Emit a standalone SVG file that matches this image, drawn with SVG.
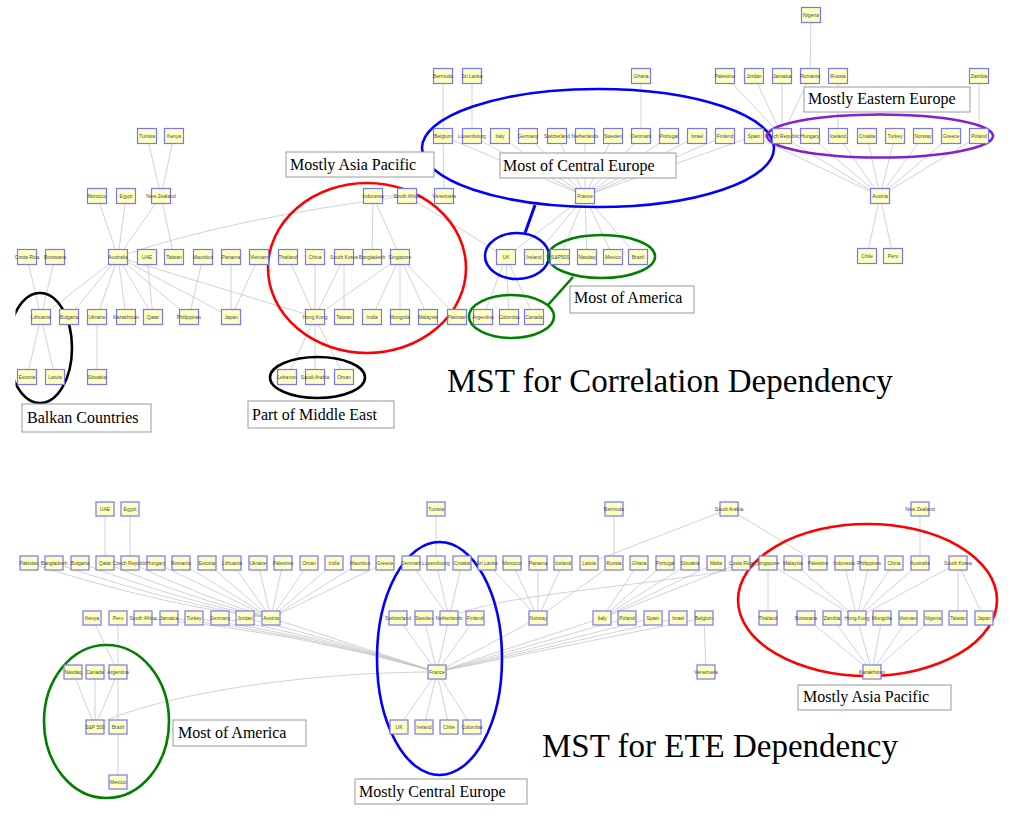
<svg xmlns="http://www.w3.org/2000/svg" width="1024" height="820" viewBox="0 0 1024 820">
<style>
.n use{fill:#ffffc0;stroke:#7676ff;stroke-width:1.2}
.n text{font-family:"Liberation Sans",Arial,sans-serif;font-size:5px;fill:#4a4a4a;text-anchor:middle}
.e path{stroke:#c6c6c6;stroke-width:0.8;fill:none}
.ov{fill:none;stroke-width:2.6}
.lb rect{fill:#fff;stroke:#9a9a9a;stroke-width:1}
.lb text{font-family:"Liberation Serif","Times New Roman",serif;font-size:16px;fill:#000}
.tt{font-family:"Liberation Serif","Times New Roman",serif;font-size:33px;fill:#000}
</style>
<defs>
<clipPath id="clipL"><rect x="15.5" y="280" width="100" height="140"/></clipPath>
<rect id="bt" x="-9.5" y="-7.5" width="19" height="15"/>
<rect id="bb" x="-9" y="-7" width="18" height="14"/>
</defs>
<rect width="1024" height="820" fill="#fff"/>

<g id="connectors" class="e">
<path d="M811 15L810 76M443 76L443 136L444 196M472 76L472 136M641 76L641 136M725 76L782 136M754 76L782 136M782 76L782 136M810 76L782 136M838 76L838 136M979 76L979 136"/>
<path d="M443 136L585 196M472 136L585 196M500 136L585 196M528 136L585 196M557 136L585 196M585 136L585 196M613 136L585 196M641 136L585 196M669 136L585 196M697 136L585 196M725 136L585 196M754 136L585 196"/>
<path d="M754 136L880 196M782 136L880 196M810 136L880 196M838 136L880 196M867 136L880 196M895 136L880 196M923 136L880 196M951 136L880 196M979 136L880 196M880 196L867 256M880 196L893 256"/>
<path d="M585 196L506 257M585 196L534 257M585 196L560 257M585 196L587 257M585 196L613 257M585 196L638 257M506 257L483 317M506 257L509 317M506 257L534 317M407 196L506 257"/>
<path d="M118 257Q230 218 407 196M373 196L407 196M373 196L372 257M373 196L400 257M288 257L315 317M315 257L315 317M344 257L315 317M400 257L315 317M344 257L344 317M400 257L372 317M400 257L400 317M400 257L428 317M400 257L457 317M315 317L287 377M315 317L315 377M315 317L344 377M118 257L315 317"/>
<path d="M147 136L161 196M174 136L161 196M161 196L118 257M161 196L174 257M97 196L118 257M126 196L118 257M118 257L41 317M118 257L69 317M118 257L97 317M118 257L126 317M118 257L153 317M118 257L189 317M118 257L231 317M147 257L153 317M203 257L189 317M231 257L231 317M259 257L231 317M27 257L41 317M55 257L41 317M41 317L27 377M41 317L55 377M97 317L97 377"/>
<path d="M105 509L105 563M130 509L130 563M29 563Q170 608 271 618M54 563Q180 606 271 618M80 563Q190 604 271 618M105 563Q200 602 271 618M130 563Q210 600 271 618M156 563L271 618M181 563L271 618M207 563L271 618M232 563L271 618M258 563L271 618M283 563L271 618M309 563L271 618M334 563L271 618M360 563L271 618M385 563L271 618"/>
<path d="M271 618L437 672M143 618Q290 630 437 672M169 618Q300 632 437 672M194 618Q310 634 437 672M220 618Q320 636 437 672M245 618Q330 638 437 672M92 618L118 672M118 618L118 727M73 672L95 727M95 672L95 727M118 672L95 727M98 724C160 695 300 672 437 672M118 727L118 782"/>
<path d="M436 509L436 563M411 563L449 618M436 563L449 618M462 563L449 618M398 618L437 672M424 618L437 672M449 618L437 672M475 618L437 672M437 672L399 727M437 672L424 727M437 672L449 727M437 672L472 727"/>
<path d="M487 563L538 618M512 563L538 618M538 563L538 618M563 563L538 618M614 563L538 618M614 509L614 563M538 618L437 672M639 563L602 618M665 563L602 618M690 563L602 618M716 563L602 618M741 563L602 618M437 672L602 618M437 672L627 618M437 672L653 618M437 672L678 618M437 672L704 618M704 618L706 672M449 618C500 592 650 588 768 563"/>
<path d="M768 563L768 618M768 563L857 618M793 563L857 618M844 563L857 618M869 563L857 618M894 563L857 618M920 563L857 618M958 563L857 618M729 509L818 563M729 509L589 563M920 509L920 563M958 563L958 618M958 563L984 618M857 618L872 672M806 618L872 672M832 618L872 672M882 618L872 672M908 618L872 672M933 618L872 672"/>
</g>

<g id="groups">
<ellipse class="ov" cx="598" cy="148" rx="176" ry="59" stroke="#0000ff" stroke-width="3"/>
<ellipse class="ov" cx="880" cy="136" rx="113" ry="21.5" stroke="#8022d2"/>
<ellipse class="ov" cx="367" cy="268" rx="99" ry="85" stroke="#ff0000"/>
<ellipse class="ov" cx="517" cy="256" rx="32" ry="23" stroke="#0000ff" stroke-width="3"/>
<path d="M535 205L525 233" stroke="#0000ff" stroke-width="3"/>
<ellipse class="ov" cx="601.5" cy="256.5" rx="53.5" ry="21.5" stroke="#008000"/>
<ellipse class="ov" cx="511.5" cy="316.5" rx="42.5" ry="21.5" stroke="#008000"/>
<path d="M573 277L548 305" stroke="#008000" stroke-width="2.6"/>
<ellipse class="ov" cx="40" cy="348" rx="32" ry="55" stroke="#000" clip-path="url(#clipL)"/>
<ellipse class="ov" cx="317.5" cy="377.5" rx="47.5" ry="20.5" stroke="#000"/>
<ellipse class="ov" cx="106.5" cy="721.5" rx="62.5" ry="76.5" stroke="#008000"/>
<ellipse class="ov" cx="439.5" cy="658.5" rx="62.5" ry="116.5" stroke="#0000ff" stroke-width="3"/>
<ellipse class="ov" cx="867.5" cy="600" rx="129.5" ry="76" stroke="#ff0000"/>
</g>

<g id="top-nodes" class="n">
<g id="a-nigeria" transform="translate(811,15)"><use href="#bt"/><text y="2">Nigeria</text></g>
<g id="a-bermuda" transform="translate(443,76)"><use href="#bt"/><text y="2">Bermuda</text></g>
<g id="a-srilanka" transform="translate(472,76)"><use href="#bt"/><text y="2">Sri Lanka</text></g>
<g id="a-ghana" transform="translate(641,76)"><use href="#bt"/><text y="2">Ghana</text></g>
<g id="a-palestine" transform="translate(725,76)"><use href="#bt"/><text y="2">Palestine</text></g>
<g id="a-jordan" transform="translate(754,76)"><use href="#bt"/><text y="2">Jordan</text></g>
<g id="a-jamaica" transform="translate(782,76)"><use href="#bt"/><text y="2">Jamaica</text></g>
<g id="a-romania" transform="translate(810,76)"><use href="#bt"/><text y="2">Romania</text></g>
<g id="a-russia" transform="translate(838,76)"><use href="#bt"/><text y="2">Russia</text></g>
<g id="a-zambia" transform="translate(979,76)"><use href="#bt"/><text y="2">Zambia</text></g>
<g id="a-belgium" transform="translate(443,136)"><use href="#bt"/><text y="2">Belgium</text></g>
<g id="a-luxembourg" transform="translate(472,136)"><use href="#bt"/><text y="2">Luxembourg</text></g>
<g id="a-italy" transform="translate(500,136)"><use href="#bt"/><text y="2">Italy</text></g>
<g id="a-germany" transform="translate(528,136)"><use href="#bt"/><text y="2">Germany</text></g>
<g id="a-switzerland" transform="translate(557,136)"><use href="#bt"/><text y="2">Switzerland</text></g>
<g id="a-netherlands" transform="translate(585,136)"><use href="#bt"/><text y="2">Netherlands</text></g>
<g id="a-sweden" transform="translate(613,136)"><use href="#bt"/><text y="2">Sweden</text></g>
<g id="a-denmark" transform="translate(641,136)"><use href="#bt"/><text y="2">Denmark</text></g>
<g id="a-portugal" transform="translate(669,136)"><use href="#bt"/><text y="2">Portugal</text></g>
<g id="a-israel" transform="translate(697,136)"><use href="#bt"/><text y="2">Israel</text></g>
<g id="a-finland" transform="translate(725,136)"><use href="#bt"/><text y="2">Finland</text></g>
<g id="a-spain" transform="translate(754,136)"><use href="#bt"/><text y="2">Spain</text></g>
<g id="a-czech" transform="translate(782,136)"><use href="#bt"/><text y="2">Czech Republic</text></g>
<g id="a-hungary" transform="translate(810,136)"><use href="#bt"/><text y="2">Hungary</text></g>
<g id="a-iceland" transform="translate(838,136)"><use href="#bt"/><text y="2">Iceland</text></g>
<g id="a-croatia" transform="translate(867,136)"><use href="#bt"/><text y="2">Croatia</text></g>
<g id="a-turkey" transform="translate(895,136)"><use href="#bt"/><text y="2">Turkey</text></g>
<g id="a-norway" transform="translate(923,136)"><use href="#bt"/><text y="2">Norway</text></g>
<g id="a-greece" transform="translate(951,136)"><use href="#bt"/><text y="2">Greece</text></g>
<g id="a-poland" transform="translate(979,136)"><use href="#bt"/><text y="2">Poland</text></g>
<g id="a-tunisia" transform="translate(147,136)"><use href="#bt"/><text y="2">Tunisia</text></g>
<g id="a-kenya" transform="translate(174,136)"><use href="#bt"/><text y="2">Kenya</text></g>
<g id="a-morocco" transform="translate(97,196)"><use href="#bt"/><text y="2">Morocco</text></g>
<g id="a-egypt" transform="translate(126,196)"><use href="#bt"/><text y="2">Egypt</text></g>
<g id="a-newzealand" transform="translate(161,196)"><use href="#bt"/><text y="2">New Zealand</text></g>
<g id="a-indonesia" transform="translate(373,196)"><use href="#bt"/><text y="2">Indonesia</text></g>
<g id="a-southafrica" transform="translate(407,196)"><use href="#bt"/><text y="2">South Africa</text></g>
<g id="a-venezuela" transform="translate(444,196)"><use href="#bt"/><text y="2">Venezuela</text></g>
<g id="a-france" transform="translate(585,196)"><use href="#bt"/><text y="2">France</text></g>
<g id="a-austria" transform="translate(880,196)"><use href="#bt"/><text y="2">Austria</text></g>
<g id="a-costarica" transform="translate(27,257)"><use href="#bt"/><text y="2">Costa Rica</text></g>
<g id="a-botswana" transform="translate(55,257)"><use href="#bt"/><text y="2">Botswana</text></g>
<g id="a-australia" transform="translate(118,257)"><use href="#bt"/><text y="2">Australia</text></g>
<g id="a-uae" transform="translate(147,257)"><use href="#bt"/><text y="2">UAE</text></g>
<g id="a-taiwan" transform="translate(174,257)"><use href="#bt"/><text y="2">Taiwan</text></g>
<g id="a-mauritius" transform="translate(203,257)"><use href="#bt"/><text y="2">Mauritius</text></g>
<g id="a-panama" transform="translate(231,257)"><use href="#bt"/><text y="2">Panama</text></g>
<g id="a-vietnam" transform="translate(259,257)"><use href="#bt"/><text y="2">Vietnam</text></g>
<g id="a-thailand" transform="translate(288,257)"><use href="#bt"/><text y="2">Thailand</text></g>
<g id="a-china" transform="translate(315,257)"><use href="#bt"/><text y="2">China</text></g>
<g id="a-southkorea" transform="translate(344,257)"><use href="#bt"/><text y="2">South Korea</text></g>
<g id="a-bangladesh" transform="translate(372,257)"><use href="#bt"/><text y="2">Bangladesh</text></g>
<g id="a-singapore" transform="translate(400,257)"><use href="#bt"/><text y="2">Singapore</text></g>
<g id="a-uk" transform="translate(506,257)"><use href="#bt"/><text y="2">UK</text></g>
<g id="a-ireland" transform="translate(534,257)"><use href="#bt"/><text y="2">Ireland</text></g>
<g id="a-sp500" transform="translate(560,257)"><use href="#bt"/><text y="2">S&amp;P500</text></g>
<g id="a-nasdaq" transform="translate(587,257)"><use href="#bt"/><text y="2">Nasdaq</text></g>
<g id="a-mexico" transform="translate(613,257)"><use href="#bt"/><text y="2">Mexico</text></g>
<g id="a-brazil" transform="translate(638,257)"><use href="#bt"/><text y="2">Brazil</text></g>
<g id="a-chile" transform="translate(867,256)"><use href="#bt"/><text y="2">Chile</text></g>
<g id="a-peru" transform="translate(893,256)"><use href="#bt"/><text y="2">Peru</text></g>
<g id="a-lithuania" transform="translate(41,317)"><use href="#bt"/><text y="2">Lithuania</text></g>
<g id="a-bulgaria" transform="translate(69,317)"><use href="#bt"/><text y="2">Bulgaria</text></g>
<g id="a-ukraine" transform="translate(97,317)"><use href="#bt"/><text y="2">Ukraine</text></g>
<g id="a-kazakhstan" transform="translate(126,317)"><use href="#bt"/><text y="2">Kazakhstan</text></g>
<g id="a-qatar" transform="translate(153,317)"><use href="#bt"/><text y="2">Qatar</text></g>
<g id="a-philippines" transform="translate(189,317)"><use href="#bt"/><text y="2">Philippines</text></g>
<g id="a-japan" transform="translate(231,317)"><use href="#bt"/><text y="2">Japan</text></g>
<g id="a-hongkong" transform="translate(315,317)"><use href="#bt"/><text y="2">Hong Kong</text></g>
<g id="a-taiwan2" transform="translate(344,317)"><use href="#bt"/><text y="2">Taiwan</text></g>
<g id="a-india" transform="translate(372,317)"><use href="#bt"/><text y="2">India</text></g>
<g id="a-mongolia" transform="translate(400,317)"><use href="#bt"/><text y="2">Mongolia</text></g>
<g id="a-malaysia" transform="translate(428,317)"><use href="#bt"/><text y="2">Malaysia</text></g>
<g id="a-pakistan" transform="translate(457,317)"><use href="#bt"/><text y="2">Pakistan</text></g>
<g id="a-argentina" transform="translate(483,317)"><use href="#bt"/><text y="2">Argentina</text></g>
<g id="a-colombia" transform="translate(509,317)"><use href="#bt"/><text y="2">Colombia</text></g>
<g id="a-canada" transform="translate(534,317)"><use href="#bt"/><text y="2">Canada</text></g>
<g id="a-estonia" transform="translate(27,377)"><use href="#bt"/><text y="2">Estonia</text></g>
<g id="a-latvia" transform="translate(55,377)"><use href="#bt"/><text y="2">Latvia</text></g>
<g id="a-slovakia" transform="translate(97,377)"><use href="#bt"/><text y="2">Slovakia</text></g>
<g id="a-lebanon" transform="translate(287,377)"><use href="#bt"/><text y="2">Lebanon</text></g>
<g id="a-saudiarabia" transform="translate(315,377)"><use href="#bt"/><text y="2">Saudi Arabia</text></g>
<g id="a-oman" transform="translate(344,377)"><use href="#bt"/><text y="2">Oman</text></g>
</g>

<g id="bottom-nodes" class="n">
<g id="b-uae" transform="translate(105,509)"><use href="#bb"/><text y="2">UAE</text></g>
<g id="b-egypt" transform="translate(130,509)"><use href="#bb"/><text y="2">Egypt</text></g>
<g id="b-tunisia" transform="translate(436,509)"><use href="#bb"/><text y="2">Tunisia</text></g>
<g id="b-bermuda" transform="translate(614,509)"><use href="#bb"/><text y="2">Bermuda</text></g>
<g id="b-saudiarabia" transform="translate(729,509)"><use href="#bb"/><text y="2">Saudi Arabia</text></g>
<g id="b-newzealand" transform="translate(920,509)"><use href="#bb"/><text y="2">New Zealand</text></g>
<g id="b-pakistan" transform="translate(29,563)"><use href="#bb"/><text y="2">Pakistan</text></g>
<g id="b-bangladesh" transform="translate(54,563)"><use href="#bb"/><text y="2">Bangladesh</text></g>
<g id="b-bulgaria" transform="translate(80,563)"><use href="#bb"/><text y="2">Bulgaria</text></g>
<g id="b-qatar" transform="translate(105,563)"><use href="#bb"/><text y="2">Qatar</text></g>
<g id="b-czech" transform="translate(130,563)"><use href="#bb"/><text y="2">Czech Republic</text></g>
<g id="b-hungary" transform="translate(156,563)"><use href="#bb"/><text y="2">Hungary</text></g>
<g id="b-romania" transform="translate(181,563)"><use href="#bb"/><text y="2">Romania</text></g>
<g id="b-estonia" transform="translate(207,563)"><use href="#bb"/><text y="2">Estonia</text></g>
<g id="b-lithuania" transform="translate(232,563)"><use href="#bb"/><text y="2">Lithuania</text></g>
<g id="b-ukraine" transform="translate(258,563)"><use href="#bb"/><text y="2">Ukraine</text></g>
<g id="b-palestine" transform="translate(283,563)"><use href="#bb"/><text y="2">Palestine</text></g>
<g id="b-oman" transform="translate(309,563)"><use href="#bb"/><text y="2">Oman</text></g>
<g id="b-india" transform="translate(334,563)"><use href="#bb"/><text y="2">India</text></g>
<g id="b-mauritius" transform="translate(360,563)"><use href="#bb"/><text y="2">Mauritius</text></g>
<g id="b-greece" transform="translate(385,563)"><use href="#bb"/><text y="2">Greece</text></g>
<g id="b-denmark" transform="translate(411,563)"><use href="#bb"/><text y="2">Denmark</text></g>
<g id="b-luxembourg" transform="translate(436,563)"><use href="#bb"/><text y="2">Luxembourg</text></g>
<g id="b-croatia" transform="translate(462,563)"><use href="#bb"/><text y="2">Croatia</text></g>
<g id="b-srilanka" transform="translate(487,563)"><use href="#bb"/><text y="2">Sri Lanka</text></g>
<g id="b-morocco" transform="translate(512,563)"><use href="#bb"/><text y="2">Morocco</text></g>
<g id="b-panama" transform="translate(538,563)"><use href="#bb"/><text y="2">Panama</text></g>
<g id="b-iceland" transform="translate(563,563)"><use href="#bb"/><text y="2">Iceland</text></g>
<g id="b-latvia" transform="translate(589,563)"><use href="#bb"/><text y="2">Latvia</text></g>
<g id="b-russia" transform="translate(614,563)"><use href="#bb"/><text y="2">Russia</text></g>
<g id="b-ghana" transform="translate(639,563)"><use href="#bb"/><text y="2">Ghana</text></g>
<g id="b-portugal" transform="translate(665,563)"><use href="#bb"/><text y="2">Portugal</text></g>
<g id="b-slovakia" transform="translate(690,563)"><use href="#bb"/><text y="2">Slovakia</text></g>
<g id="b-malta" transform="translate(716,563)"><use href="#bb"/><text y="2">Malta</text></g>
<g id="b-costarica" transform="translate(741,563)"><use href="#bb"/><text y="2">Costa Rica</text></g>
<g id="b-singapore" transform="translate(768,563)"><use href="#bb"/><text y="2">Singapore</text></g>
<g id="b-malaysia" transform="translate(793,563)"><use href="#bb"/><text y="2">Malaysia</text></g>
<g id="b-palestine2" transform="translate(818,563)"><use href="#bb"/><text y="2">Palestine</text></g>
<g id="b-indonesia" transform="translate(844,563)"><use href="#bb"/><text y="2">Indonesia</text></g>
<g id="b-philippines" transform="translate(869,563)"><use href="#bb"/><text y="2">Philippines</text></g>
<g id="b-china" transform="translate(894,563)"><use href="#bb"/><text y="2">China</text></g>
<g id="b-australia" transform="translate(920,563)"><use href="#bb"/><text y="2">Australia</text></g>
<g id="b-southkorea" transform="translate(958,563)"><use href="#bb"/><text y="2">South Korea</text></g>
<g id="b-kenya" transform="translate(92,618)"><use href="#bb"/><text y="2">Kenya</text></g>
<g id="b-peru" transform="translate(118,618)"><use href="#bb"/><text y="2">Peru</text></g>
<g id="b-southafrica" transform="translate(143,618)"><use href="#bb"/><text y="2">South Africa</text></g>
<g id="b-jamaica" transform="translate(169,618)"><use href="#bb"/><text y="2">Jamaica</text></g>
<g id="b-turkey" transform="translate(194,618)"><use href="#bb"/><text y="2">Turkey</text></g>
<g id="b-germany" transform="translate(220,618)"><use href="#bb"/><text y="2">Germany</text></g>
<g id="b-jordan" transform="translate(245,618)"><use href="#bb"/><text y="2">Jordan</text></g>
<g id="b-austria" transform="translate(271,618)"><use href="#bb"/><text y="2">Austria</text></g>
<g id="b-switzerland" transform="translate(398,618)"><use href="#bb"/><text y="2">Switzerland</text></g>
<g id="b-sweden" transform="translate(424,618)"><use href="#bb"/><text y="2">Sweden</text></g>
<g id="b-netherlands" transform="translate(449,618)"><use href="#bb"/><text y="2">Netherlands</text></g>
<g id="b-finland" transform="translate(475,618)"><use href="#bb"/><text y="2">Finland</text></g>
<g id="b-norway" transform="translate(538,618)"><use href="#bb"/><text y="2">Norway</text></g>
<g id="b-italy" transform="translate(602,618)"><use href="#bb"/><text y="2">Italy</text></g>
<g id="b-poland" transform="translate(627,618)"><use href="#bb"/><text y="2">Poland</text></g>
<g id="b-spain" transform="translate(653,618)"><use href="#bb"/><text y="2">Spain</text></g>
<g id="b-israel" transform="translate(678,618)"><use href="#bb"/><text y="2">Israel</text></g>
<g id="b-belgium" transform="translate(704,618)"><use href="#bb"/><text y="2">Belgium</text></g>
<g id="b-thailand" transform="translate(768,618)"><use href="#bb"/><text y="2">Thailand</text></g>
<g id="b-botswana" transform="translate(806,618)"><use href="#bb"/><text y="2">Botswana</text></g>
<g id="b-zambia" transform="translate(832,618)"><use href="#bb"/><text y="2">Zambia</text></g>
<g id="b-hongkong" transform="translate(857,618)"><use href="#bb"/><text y="2">Hong Kong</text></g>
<g id="b-mongolia" transform="translate(882,618)"><use href="#bb"/><text y="2">Mongolia</text></g>
<g id="b-vietnam" transform="translate(908,618)"><use href="#bb"/><text y="2">Vietnam</text></g>
<g id="b-nigeria" transform="translate(933,618)"><use href="#bb"/><text y="2">Nigeria</text></g>
<g id="b-taiwan" transform="translate(958,618)"><use href="#bb"/><text y="2">Taiwan</text></g>
<g id="b-japan" transform="translate(984,618)"><use href="#bb"/><text y="2">Japan</text></g>
<g id="b-nasdaq" transform="translate(73,672)"><use href="#bb"/><text y="2">Nasdaq</text></g>
<g id="b-canada" transform="translate(95,672)"><use href="#bb"/><text y="2">Canada</text></g>
<g id="b-argentina" transform="translate(118,672)"><use href="#bb"/><text y="2">Argentina</text></g>
<g id="b-france" transform="translate(437,672)"><use href="#bb"/><text y="2">France</text></g>
<g id="b-venezuela" transform="translate(706,672)"><use href="#bb"/><text y="2">Venezuela</text></g>
<g id="b-kazakhstan" transform="translate(872,672)"><use href="#bb"/><text y="2">Kazakhstan</text></g>
<g id="b-sp500" transform="translate(95,727)"><use href="#bb"/><text y="2">S&amp;P 500</text></g>
<g id="b-brazil" transform="translate(118,727)"><use href="#bb"/><text y="2">Brazil</text></g>
<g id="b-uk" transform="translate(399,727)"><use href="#bb"/><text y="2">UK</text></g>
<g id="b-ireland" transform="translate(424,727)"><use href="#bb"/><text y="2">Ireland</text></g>
<g id="b-chile" transform="translate(449,727)"><use href="#bb"/><text y="2">Chile</text></g>
<g id="b-colombia" transform="translate(472,727)"><use href="#bb"/><text y="2">Colombia</text></g>
<g id="b-mexico" transform="translate(118,782)"><use href="#bb"/><text y="2">Mexico</text></g>
</g>

<g id="labels" class="lb">
<g id="l-asia-top"><rect x="286" y="152" width="148" height="25"/><text x="290" y="170">Mostly Asia Pacific</text></g>
<g id="l-central-top"><rect x="500" y="153" width="176" height="25"/><text x="503" y="171">Most of Central Europe</text></g>
<g id="l-eastern-top"><rect x="804" y="87" width="166" height="25"/><text x="808" y="104">Mostly Eastern Europe</text></g>
<g id="l-america-top"><rect x="570" y="286" width="124" height="27"/><text x="574" y="303">Most of America</text></g>
<g id="l-balkan"><rect x="22" y="404" width="129" height="28"/><text x="27" y="423">Balkan Countries</text></g>
<g id="l-middleeast"><rect x="248" y="401" width="146" height="27"/><text x="252" y="420">Part of Middle East</text></g>
<g id="l-america-bot"><rect x="173" y="720" width="133" height="26"/><text x="178" y="738">Most of America</text></g>
<g id="l-central-bot"><rect x="355" y="779" width="172" height="25"/><text x="359" y="797">Mostly Central Europe</text></g>
<g id="l-asia-bot"><rect x="798" y="685" width="153" height="25"/><text x="803" y="702">Mostly Asia Pacific</text></g>
</g>

<text class="tt" x="447" y="392">MST for Correlation Dependency</text>
<text class="tt" x="542" y="757">MST for ETE Dependency</text>
</svg>
